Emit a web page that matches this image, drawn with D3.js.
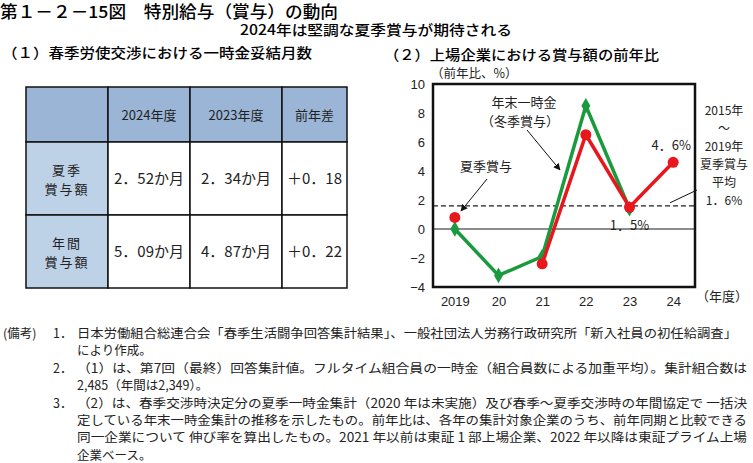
<!DOCTYPE html>
<html>
<head>
<meta charset="utf-8">
<script src="https://cdn.jsdelivr.net/npm/d3@7"></script>
<style>
body { margin: 0; background: #fff; }
svg { font-family: "Noto Sans CJK JP", sans-serif; }
</style>
</head>
<body>
<div id="chart"></div>
<script>
// (1) table
var tableHead = ["", "2024年度", "2023年度", "前年差"];
var tableRows = [["夏季", "賞与額"], ["年間", "賞与額"]];
var tableValues = [["2．52か月", "2．34か月", "＋0．18"], ["5．09か月", "4．87か月", "＋0．22"]];

// (2) line chart
var years = ["2019", "20", "21", "22", "23", "24"];
var summer = [0.8, null, -2.4, 6.5, 1.5, 4.6];
var winter = [0.0, -3.2, -1.9, 8.5, 1.4, null];
var yTicks = [-4, -2, 0, 2, 4, 6, 8, 10];
var avgLine = 1.6;

var notes = [
	["(備考)", "1．", "日本労働組合総連合会「春季生活闘争回答集計結果」、一般社団法人労務行政研究所「新入社員の初任給調査」", 660],
	["", "", "により作成。", 0],
	["", "2．", "（1）は、第7回（最終）回答集計値。フルタイム組合員の一時金（組合員数による加重平均）。集計組合数は", 670],
	["", "", "2,485（年間は2,349）。", 0],
	["", "3．", "（2）は、春季交渉時決定分の夏季一時金集計（2020 年は未実施）及び春季～夏季交渉時の年間協定で 一括決", 670],
	["", "", "定している年末一時金集計の推移を示したもの。前年比は、各年の集計対象企業のうち、前年同期と比較できる", 670],
	["", "", "同一企業について 伸び率を算出したもの。2021 年以前は東証 1 部上場企業、2022 年以降は東証プライム上場", 670],
	["", "", "企業ベース。", 0]
];

var W = 753, H = 463;
var svg = d3.select("#chart").append("svg")
	.attr("width", W)
	.attr("height", H);

// titles
svg.append("text").attr("x", 0).attr("y", 18)
	.attr("font-size", 16.5).attr("font-weight", 500)
	.attr("textLength", 338).attr("lengthAdjust", "spacingAndGlyphs")
	.text("第１－２－15図　特別給与（賞与）の動向");
svg.append("text").attr("x", 240).attr("y", 35)
	.attr("font-size", 14).attr("font-weight", 500)
	.attr("textLength", 272).attr("lengthAdjust", "spacingAndGlyphs")
	.text("2024年は堅調な夏季賞与が期待される");
svg.append("text").attr("x", 2).attr("y", 58)
	.attr("font-size", 14).attr("font-weight", 500)
	.attr("textLength", 310).attr("lengthAdjust", "spacingAndGlyphs")
	.text("（１）春季労使交渉における一時金妥結月数");
svg.append("text").attr("x", 384).attr("y", 60)
	.attr("font-size", 14).attr("font-weight", 500)
	.attr("textLength", 275).attr("lengthAdjust", "spacingAndGlyphs")
	.text("（２）上場企業における賞与額の前年比");

// ---- table ----
var colX = [26, 108, 190, 282, 347];
var rowY = [87, 142, 215, 288];
var tbl = svg.append("g").attr("font-size", 13).attr("fill", "#222");

for (var r = 0; r < 3; r++) {
	for (var c = 0; c < 4; c++) {
		var fill = "#fff";
		if (r == 0) fill = "#9bb5d7";
		else if (c == 0) fill = "#bdd1e7";
		tbl.append("rect")
			.attr("x", colX[c]).attr("y", rowY[r])
			.attr("width", colX[c + 1] - colX[c]).attr("height", rowY[r + 1] - rowY[r])
			.attr("fill", fill).attr("stroke", "#111").attr("stroke-width", 1.5);
		var cx = (colX[c] + colX[c + 1]) / 2, cy = (rowY[r] + rowY[r + 1]) / 2;
		if (r == 0) {
			tbl.append("text").attr("x", cx).attr("y", cy + 5).attr("text-anchor", "middle")
				.text(tableHead[c]);
		} else if (c == 0) {
			tableRows[r - 1].forEach(function (s, i) {
				tbl.append("text").attr("x", cx).attr("y", cy - 4 + i * 19).attr("text-anchor", "middle")
					.attr("letter-spacing", 2).text(s);
			});
		} else {
			tbl.append("text").attr("x", cx).attr("y", cy + 5).attr("text-anchor", "middle")
				.attr("font-size", 15).text(tableValues[r - 1][c - 1]);
		}
	}
}

// ---- line chart ----
var pLeft = 433, pRight = 695, pTop = 84, pBottom = 287;

var x = d3.scalePoint()
	.domain(years)
	.range([pLeft, pRight])
	.padding(0.5);

var y = d3.scaleLinear()
	.domain([-4, 10])
	.range([pBottom, pTop]);

var g = svg.append("g");

g.append("g")
	.attr("transform", "translate(" + pLeft + ",0)")
	.call(d3.axisLeft(y).tickValues(yTicks).tickSize(0).tickPadding(8))
	.call(g => g.select(".domain").remove())
	.selectAll("text")
	.attr("font-size", 13).attr("fill", "#222");

g.append("g")
	.attr("transform", "translate(0," + pBottom + ")")
	.call(d3.axisBottom(x).tickSize(0).tickPadding(10))
	.call(g => g.select(".domain").remove())
	.selectAll("text")
	.attr("font-size", 13).attr("fill", "#222");

g.append("line")
	.attr("x1", pLeft).attr("x2", pRight)
	.attr("y1", y(0)).attr("y2", y(0))
	.attr("stroke", "#666").attr("stroke-width", 1.5);

g.append("line")
	.attr("x1", pLeft).attr("x2", pRight)
	.attr("y1", y(avgLine)).attr("y2", y(avgLine))
	.attr("stroke", "#222").attr("stroke-width", 1.3)
	.attr("stroke-dasharray", "5,3");

var line = d3.line()
	.defined(d => d[1] != null)
	.x(d => x(d[0]))
	.y(d => y(d[1]));

var winterPts = years.map((yr, i) => [yr, winter[i]]);
var summerPts = years.map((yr, i) => [yr, summer[i]]);

g.append("path")
	.attr("d", line(winterPts))
	.attr("fill", "none").attr("stroke", "#1a9a3e").attr("stroke-width", 3.5)
	.attr("stroke-linejoin", "miter");
g.selectAll(".dia")
	.data(winterPts.filter(d => d[1] != null))
	.join("path")
	.attr("d", d3.symbol(d3.symbolDiamond, 70))
	.attr("transform", d => "translate(" + x(d[0]) + "," + y(d[1]) + ")")
	.attr("fill", "#1a9a3e");

g.append("path")
	.attr("d", line(summerPts))
	.attr("fill", "none").attr("stroke", "#e8161d").attr("stroke-width", 3.5);
g.selectAll(".dot")
	.data(summerPts.filter(d => d[1] != null))
	.join("circle")
	.attr("cx", d => x(d[0]))
	.attr("cy", d => y(d[1]))
	.attr("r", 5.5)
	.attr("fill", "#e8161d");

// frame
g.append("rect")
	.attr("x", pLeft).attr("y", pTop)
	.attr("width", pRight - pLeft).attr("height", pBottom - pTop)
	.attr("fill", "none").attr("stroke", "#111").attr("stroke-width", 2.5);

// labels
var lab = g.append("g").attr("font-size", 13).attr("fill", "#222");
lab.append("text").attr("x", 431).attr("y", 78).attr("font-size", 12.5).text("（前年比、%）");
lab.append("text").attr("x", 722).attr("y", 301).attr("text-anchor", "middle").text("（年度）");
lab.append("text").attr("x", 524).attr("y", 107).attr("text-anchor", "middle").text("年末一時金");
lab.append("text").attr("x", 520).attr("y", 126).attr("text-anchor", "middle").text("（冬季賞与）");
lab.append("text").attr("x", 486).attr("y", 171).attr("text-anchor", "middle").text("夏季賞与");
lab.append("text").attr("x", x("24") - 2).attr("y", y(4.6) - 12).attr("text-anchor", "middle").text("4．6%");
lab.append("text").attr("x", x("23")).attr("y", y(1.5) + 23).attr("text-anchor", "middle").text("1．5%");
var side = ["2015年", "～", "2019年", "夏季賞与", "平均", "1．6%"];
var sideY = [115, 133, 151, 169, 187, 205];
side.forEach(function (s, i) {
	lab.append("text").attr("x", 724).attr("y", sideY[i]).attr("text-anchor", "middle")
		.attr("font-size", 12).text(s);
});

// arrows
svg.append("defs").append("marker")
	.attr("id", "ah").attr("viewBox", "0 0 10 10")
	.attr("refX", 9).attr("refY", 5)
	.attr("markerWidth", 7).attr("markerHeight", 7)
	.attr("orient", "auto")
	.append("path").attr("d", "M0,0L10,5L0,10z").attr("fill", "#111");

g.append("line").attr("x1", 527).attr("y1", 130).attr("x2", 560).attr("y2", 170)
	.attr("stroke", "#111").attr("stroke-width", 1).attr("marker-end", "url(#ah)");
g.append("line").attr("x1", 487).attr("y1", 179).attr("x2", 461).attr("y2", 211)
	.attr("stroke", "#111").attr("stroke-width", 1).attr("marker-end", "url(#ah)");
g.append("line").attr("x1", 670).attr("y1", y(avgLine) - 3).attr("x2", 697).attr("y2", 190)
	.attr("stroke", "#111").attr("stroke-width", 1);

// notes
var nt = svg.append("g").attr("font-size", 12.5).attr("fill", "#222");
notes.forEach(function (n, i) {
	var yy = 338 + i * 17.4;
	if (n[0]) nt.append("text").attr("x", 3).attr("y", yy).text(n[0]);
	if (n[1]) nt.append("text").attr("x", 53).attr("y", yy).text(n[1]);
	var t = nt.append("text").attr("x", 77).attr("y", yy).text(n[2]);
	if (n[3]) t.attr("textLength", n[3]).attr("lengthAdjust", "spacingAndGlyphs");
});
</script>
</body>
</html>
